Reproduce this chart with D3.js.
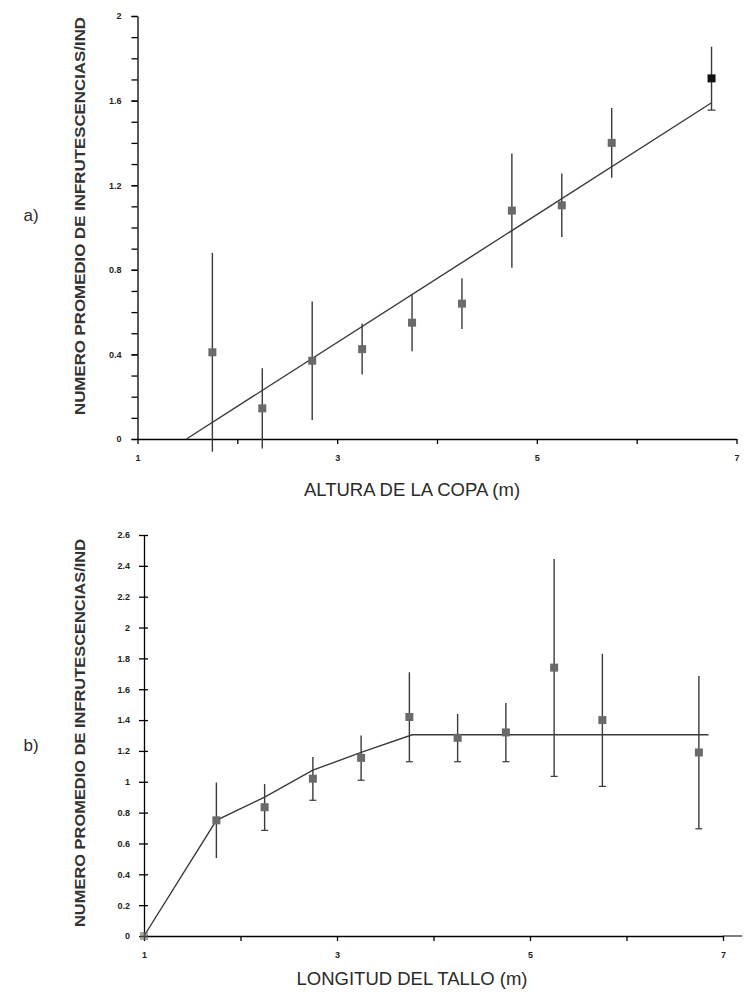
<!DOCTYPE html>
<html><head><meta charset="utf-8">
<script src="https://cdn.jsdelivr.net/npm/d3@7"></script>
<style>body{margin:0;background:#fff}svg{display:block}</style>
</head><body>
<script>
// ---- Data: panel a) ALTURA DE LA COPA ----
const aX = [1.75, 2.25, 2.75, 3.25, 3.75, 4.25, 4.75, 5.25, 5.75, 6.75];
const aY = [0.41, 0.145, 0.37, 0.425, 0.55, 0.64, 1.08, 1.105, 1.40, 1.705];
const aErr = [0.47, 0.19, 0.28, 0.12, 0.135, 0.12, 0.27, 0.15, 0.165, 0.15];
const aFitX = [1.49, 6.75];
const aFitY = [0, 1.59];
const aYTicks = [0, 0.4, 0.8, 1.2, 1.6, 2];
const aXTicks = [1, 3, 5, 7];

// ---- Data: panel b) LONGITUD DEL TALLO ----
const bX = [1, 1.75, 2.25, 2.75, 3.25, 3.75, 4.25, 4.75, 5.25, 5.75, 6.75];
const bY = [0, 0.75, 0.835, 1.02, 1.155, 1.42, 1.285, 1.32, 1.74, 1.40, 1.19];
const bErr = [0, 0.245, 0.15, 0.14, 0.145, 0.29, 0.155, 0.19, 0.705, 0.43, 0.495];
const bFitX = [1, 1.75, 2.25, 2.75, 3.25, 3.78, 6.85];
const bFitY = [0, 0.75, 0.90, 1.075, 1.19, 1.305, 1.305];
const bYTicks = [0, 0.2, 0.4, 0.6, 0.8, 1, 1.2, 1.4, 1.6, 1.8, 2, 2.2, 2.4, 2.6];
const bXTicks = [1, 3, 5, 7];

const yLabel = "NUMERO PROMEDIO DE INFRUTESCENCIAS/IND";

const svg = d3.select("body").append("svg").attr("width", 744).attr("height", 996);
const ink = "#2a2a2a", markerCol = "#6a6a6a", lineCol = "#3a3a3a";
const font = "Liberation Sans, Arial, sans-serif";

function fmt(d){ return d3.format("~g")(d); }

// ================= Panel a =================
const xA = d3.scaleLinear().domain([1, 7]).range([137.5, 736.5]);
const yA = d3.scaleLinear().domain([0, 2]).range([439, 16]);
const gA = svg.append("g");

gA.append("g").attr("transform", `translate(${xA(1)},0)`)
  .call(d3.axisLeft(yA).tickValues(d3.range(0, 2.01, 0.1)).tickSize(6).tickFormat(""))
  .call(g => g.select(".domain").remove());
gA.append("g").attr("transform", `translate(${xA(1)},0)`)
  .call(d3.axisLeft(yA).tickValues(aYTicks).tickSize(6).tickSizeOuter(0).tickPadding(10).tickFormat(fmt));
gA.append("g").attr("transform", `translate(0,${yA(0)})`)
  .call(d3.axisBottom(xA).tickValues([2, 4, 6]).tickSize(5).tickFormat(""))
  .call(g => g.select(".domain").remove());
gA.append("g").attr("transform", `translate(0,${yA(0)})`)
  .call(d3.axisBottom(xA).tickValues(aXTicks).tickSize(5).tickSizeOuter(0).tickPadding(11).tickFormat(fmt));

gA.append("path").datum(aFitX.map((x, i) => [x, aFitY[i]]))
  .attr("d", d3.line().x(d => xA(d[0])).y(d => yA(d[1])))
  .attr("fill", "none").attr("stroke", lineCol).attr("stroke-width", 1.4);
gA.selectAll(".eb").data(aX).join("line")
  .attr("x1", (d) => xA(d)).attr("x2", d => xA(d))
  .attr("y1", (d, i) => yA(aY[i] + aErr[i])).attr("y2", (d, i) => yA(aY[i] - aErr[i]))
  .attr("stroke", lineCol).attr("stroke-width", 1.4);
gA.append("line")
  .attr("x1", xA(aX[9]) - 4).attr("x2", xA(aX[9]) + 4)
  .attr("y1", yA(aY[9] - aErr[9])).attr("y2", yA(aY[9] - aErr[9]))
  .attr("stroke", lineCol).attr("stroke-width", 1.2);
gA.selectAll(".mk").data(aX).join("rect")
  .attr("x", d => xA(d) - 4).attr("y", (d, i) => yA(aY[i]) - 4)
  .attr("width", 8).attr("height", 8)
  .attr("fill", (d, i) => i === 9 ? "#111" : markerCol);

gA.append("text").attr("x", 412).attr("y", 496).attr("text-anchor", "middle")
  .attr("font-family", font).attr("font-size", 18.5).attr("fill", ink).text("ALTURA DE LA COPA (m)");
gA.append("text").attr("x", 31).attr("y", 221).attr("text-anchor", "middle")
  .attr("font-family", font).attr("font-size", 17).attr("fill", ink).text("a)");
gA.append("text").attr("transform", "translate(85,216) rotate(-90)").attr("text-anchor", "middle")
  .attr("font-family", font).attr("font-size", 15).attr("font-weight", "bold").attr("fill", "#333")
  .attr("textLength", 398).attr("lengthAdjust", "spacingAndGlyphs").text(yLabel);

// ================= Panel b =================
const xB = d3.scaleLinear().domain([1, 7]).range([144, 723]);
const yB = d3.scaleLinear().domain([0, 2.6]).range([936, 535]);
const gB = svg.append("g");

gB.append("g").attr("transform", `translate(${xB(1)},0)`)
  .call(d3.axisLeft(yB).tickValues(bYTicks).tickSize(5).tickSizeOuter(0).tickPadding(9).tickFormat(fmt))
  .call(g => g.selectAll(".tick line").attr("x1", 4));
gB.append("g").attr("transform", `translate(0,${yB(0)})`)
  .call(d3.axisBottom(xB).tickValues([2, 4, 6]).tickSize(5).tickFormat(""))
  .call(g => g.select(".domain").remove());
gB.append("g").attr("transform", `translate(0,${yB(0)})`)
  .call(d3.axisBottom(xB).tickValues(bXTicks).tickSize(5).tickSizeOuter(0).tickPadding(11).tickFormat(fmt));
gB.append("line").attr("x1", xB(7)).attr("x2", xB(7.2)).attr("y1", yB(0)).attr("y2", yB(0))
  .attr("stroke", "#000");

gB.append("path").datum(bFitX.map((x, i) => [x, bFitY[i]]))
  .attr("d", d3.line().x(d => xB(d[0])).y(d => yB(d[1])))
  .attr("fill", "none").attr("stroke", lineCol).attr("stroke-width", 1.4);
gB.selectAll(".eb").data(bX).join("line")
  .attr("x1", d => xB(d)).attr("x2", d => xB(d))
  .attr("y1", (d, i) => yB(bY[i] + bErr[i])).attr("y2", (d, i) => yB(bY[i] - bErr[i]))
  .attr("stroke", lineCol).attr("stroke-width", 1.4);
gB.selectAll(".cap").data(bX.slice(2)).join("line")
  .attr("x1", d => xB(d) - 3.5).attr("x2", d => xB(d) + 3.5)
  .attr("y1", (d, i) => yB(bY[i + 2] - bErr[i + 2])).attr("y2", (d, i) => yB(bY[i + 2] - bErr[i + 2]))
  .attr("stroke", lineCol).attr("stroke-width", 1.2);
gB.selectAll(".mk").data(bX).join("rect")
  .attr("x", d => xB(d) - 4).attr("y", (d, i) => yB(bY[i]) - 4)
  .attr("width", 8).attr("height", 8)
  .attr("fill", markerCol).attr("opacity", (d, i) => i === 0 ? 0.6 : 1);

gB.append("text").attr("x", 412).attr("y", 985).attr("text-anchor", "middle")
  .attr("font-family", font).attr("font-size", 18.5).attr("fill", ink).text("LONGITUD DEL TALLO (m)");
gB.append("text").attr("x", 31).attr("y", 751).attr("text-anchor", "middle")
  .attr("font-family", font).attr("font-size", 17).attr("fill", ink).text("b)");
gB.append("text").attr("transform", "translate(85,733) rotate(-90)").attr("text-anchor", "middle")
  .attr("font-family", font).attr("font-size", 15).attr("font-weight", "bold").attr("fill", "#333")
  .attr("textLength", 388).attr("lengthAdjust", "spacingAndGlyphs").text(yLabel);

svg.selectAll(".tick text").attr("font-family", font).attr("font-size", 9).attr("font-weight", "bold").attr("fill", "#222");
svg.selectAll(".domain, .tick line").attr("stroke", "#000").attr("stroke-width", 1.3);
</script>
</body></html>
